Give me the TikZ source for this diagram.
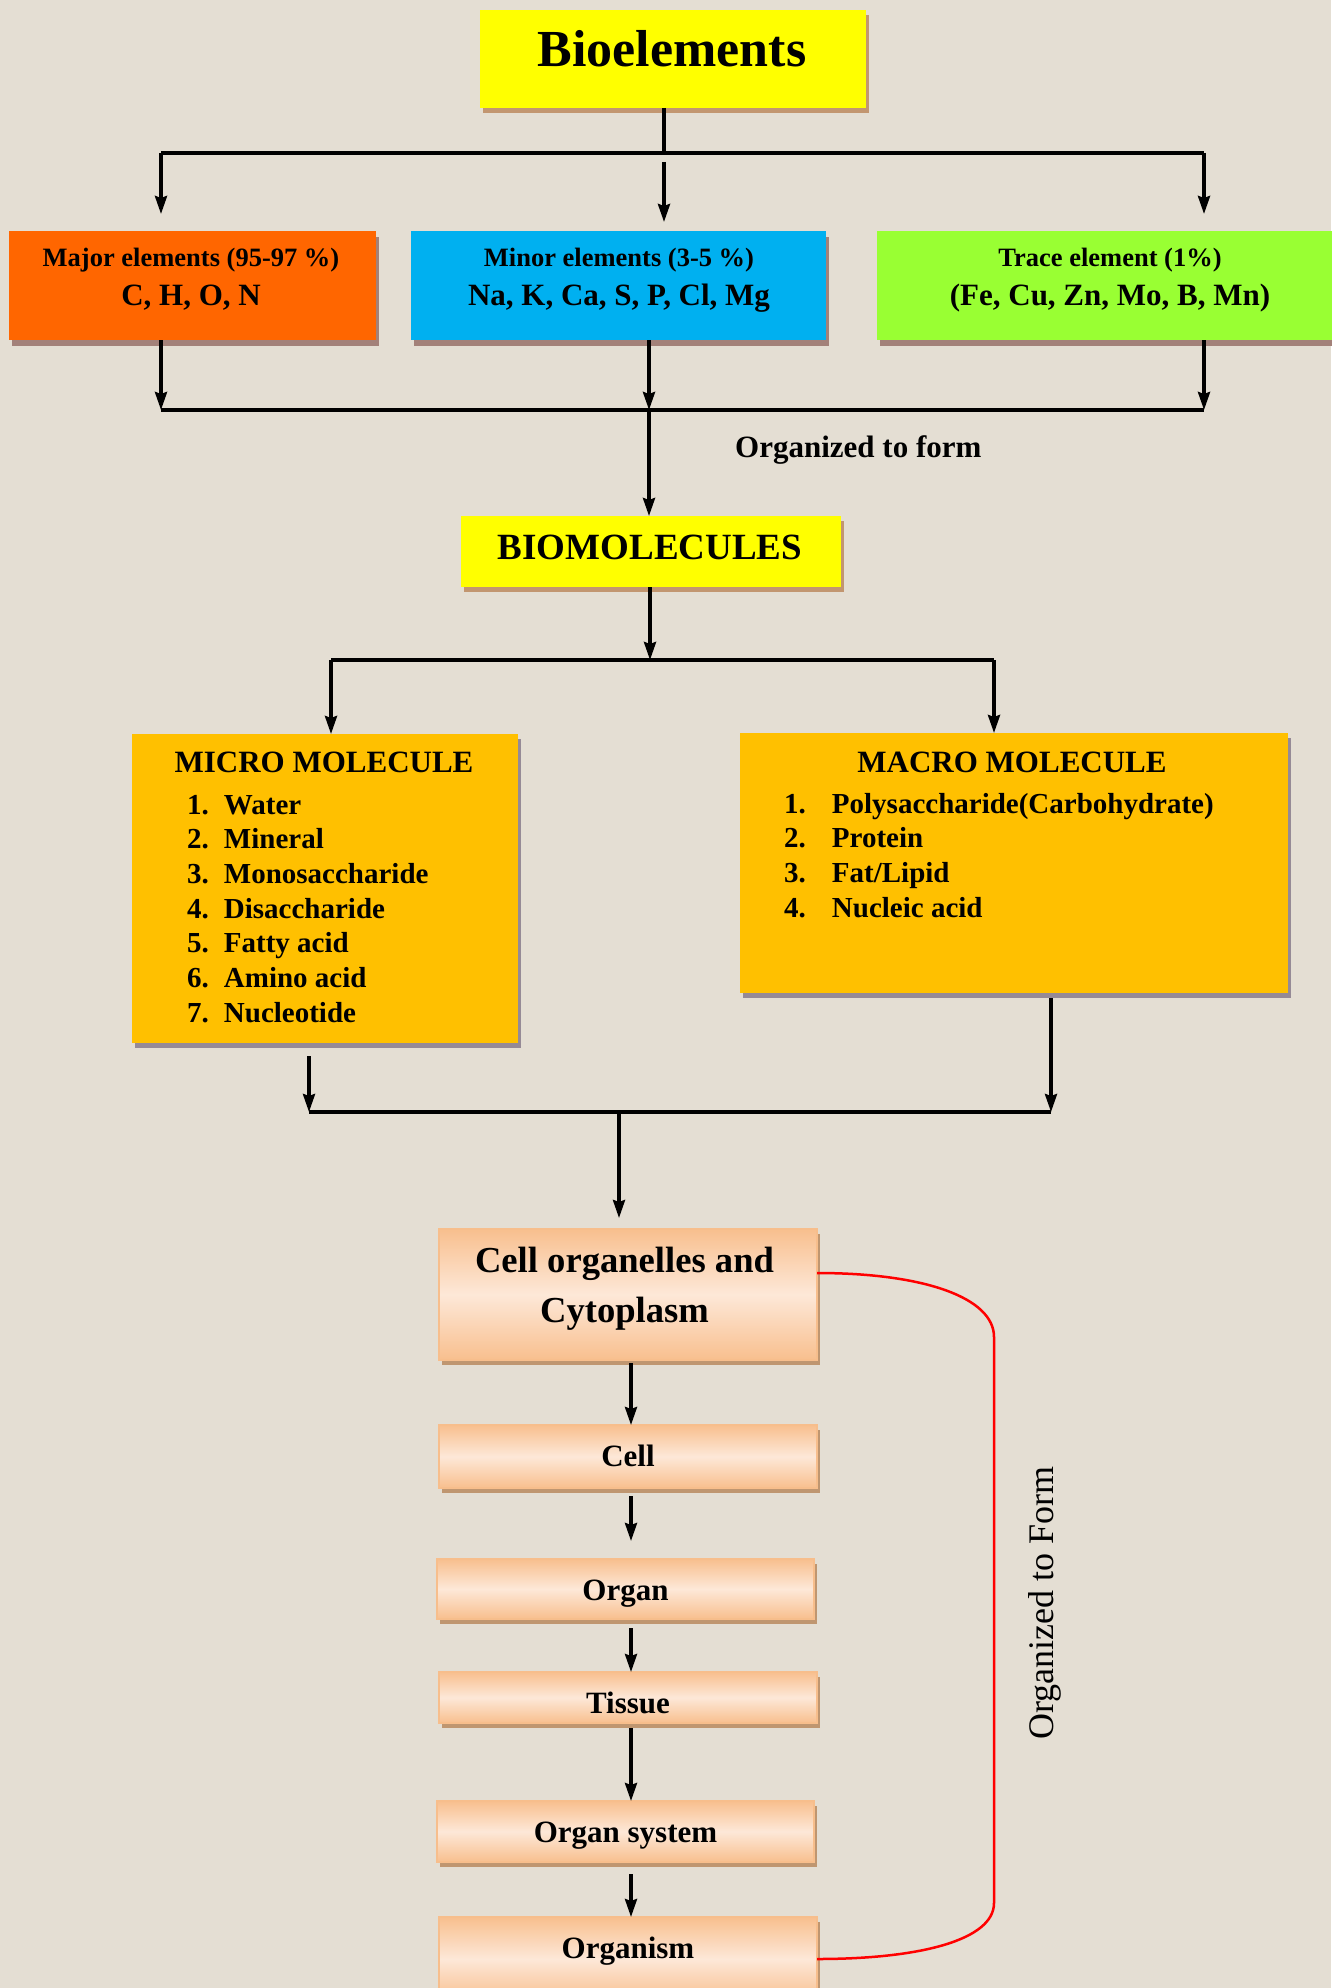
\documentclass[tikz,border=0pt]{standalone}
\usepackage{fontspec}
\setmainfont{Liberation Serif}
\usetikzlibrary{arrows.meta,shadows}
\definecolor{bgc}{HTML}{E4DED3}
\definecolor{yel}{HTML}{FFFF00}
\definecolor{orng}{HTML}{FF6600}
\definecolor{blu}{HTML}{00B0F0}
\definecolor{grn}{HTML}{99FF33}
\definecolor{gold}{HTML}{FFC000}
\definecolor{shTan}{HTML}{C29670}
\definecolor{shMauve}{HTML}{A38179}
\definecolor{shGray}{HTML}{958A96}
\definecolor{shPeach}{HTML}{BF9670}
\definecolor{peachD}{HTML}{F8BF8E}
\definecolor{peachL}{HTML}{FDE8D8}
\definecolor{peachB}{HTML}{F7BE8C}
\begin{document}
\begin{tikzpicture}[x=1pt,y=1pt,
  sbox/.style={inner sep=0pt, outer sep=0pt, draw=none},
  shadowTan/.style={drop shadow={shadow xshift=3pt,shadow yshift=-5pt,fill=shTan,opacity=1}},
  shadowMauve/.style={drop shadow={shadow xshift=3pt,shadow yshift=-6pt,fill=shMauve,opacity=1}},
  shadowGray/.style={drop shadow={shadow xshift=3pt,shadow yshift=-5pt,fill=shGray,opacity=1}},
  peachbox/.style={sbox, draw=peachB, line width=1.5pt, top color=peachD, bottom color=peachD, middle color=peachL,
     drop shadow={shadow xshift=3pt,shadow yshift=-5pt,fill=shPeach,opacity=1}},
  ft/.style={font=\bfseries\fontsize{#1}{#1}\selectfont, inner sep=0pt},
  conn/.style={line width=3.4pt, black},
  arr/.style={conn, -{Stealth[length=18pt,width=12pt,inset=2pt]}},
  redl/.style={line width=2.5pt, red}
]
\fill[bgc] (0,0) rectangle (1331,-1988);
\useasboundingbox (0,0) rectangle (1331,-1988);

% ---------- boxes ----------
\node[sbox, fill=yel, shadowTan, minimum width=386pt, minimum height=98pt] (bio) at (673,-59) {};
\node[ft=52, anchor=base] (tbio) at (672,-67) {Bioelements};

\node[sbox, fill=orng, shadowMauve, minimum width=367pt, minimum height=109pt] (major) at (192.5,-285.5) {};
\node[sbox, fill=blu, shadowMauve, minimum width=415pt, minimum height=109pt] (minor) at (618.5,-285.5) {};
\node[sbox, fill=grn, shadowMauve, minimum width=466pt, minimum height=109pt] (trace) at (1110,-285.5) {};
\node[ft=26.5, anchor=base] (tmaj1) at (191,-266) {Major elements (95-97 \%)};
\node[ft=31, anchor=base] (tmaj2) at (191,-305) {C, H, O, N};
\node[ft=26.5, anchor=base] (tmin1) at (619,-266) {Minor elements (3-5 \%)};
\node[ft=31, anchor=base] (tmin2) at (619,-305) {Na, K, Ca, S, P, Cl, Mg};
\node[ft=26.5, anchor=base] (ttr1) at (1110,-266) {Trace element (1\%)};
\node[ft=31, anchor=base] (ttr2) at (1110,-305) {(Fe, Cu, Zn, Mo, B, Mn)};

\node[ft=31, anchor=base west] (orgform) at (735,-457) {Organized to form};

\node[sbox, fill=yel, shadowTan, minimum width=380pt, minimum height=71pt] (biomol) at (651,-551.5) {};
\node[ft=37, anchor=base] (tbiomol) at (650,-559) {BIOMOLECULES};

\node[sbox, fill=gold, shadowGray, minimum width=386pt, minimum height=309pt] (micro) at (325,-888.5) {};
\node[sbox, fill=gold, shadowGray, minimum width=548pt, minimum height=260pt] (macro) at (1014,-863) {};
\node[ft=31, anchor=base] (tmicro) at (324,-772) {MICRO MOLECULE};
\node[ft=31, anchor=base] (tmacro) at (1012,-772) {MACRO MOLECULE};
\node[anchor=base west, inner sep=0pt, font=\bfseries\fontsize{29}{34.7}\selectfont] (lmicro) at (187,-814)
  {\begin{tabular}[t]{@{}l@{\hspace{15pt}}l@{}}
   1. & Water\\ 2. & Mineral\\ 3. & Monosaccharide\\ 4. & Disaccharide\\
   5. & Fatty acid\\ 6. & Amino acid\\ 7. & Nucleotide
   \end{tabular}};
\node[anchor=base west, inner sep=0pt, font=\bfseries\fontsize{29}{34.7}\selectfont] (lmacro) at (784,-813)
  {\begin{tabular}[t]{@{}l@{\hspace{26pt}}l@{}}
   1. & Polysaccharide(Carbohydrate)\\ 2. & Protein\\ 3. & Fat/Lipid\\ 4. & Nucleic acid
   \end{tabular}};

\node[peachbox, minimum width=378pt, minimum height=131pt] (cellorg) at (628,-1294.5) {};
\node[anchor=base, inner sep=0pt, font=\bfseries\fontsize{36.6}{50}\selectfont] (tcellorg) at (624.5,-1272)
  {\begin{tabular}[t]{@{}c@{}}Cell organelles and\\ Cytoplasm\end{tabular}};
\node[peachbox, minimum width=378pt, minimum height=63pt] (cell) at (628,-1456.5) {};
\node[ft=31, anchor=base] (tcell) at (628,-1466) {Cell};
\node[peachbox, minimum width=377pt, minimum height=60pt] (organ) at (625.5,-1589) {};
\node[ft=31, anchor=base] (torgan) at (625.5,-1600) {Organ};
\node[peachbox, minimum width=378pt, minimum height=51pt] (tissue) at (628,-1697.5) {};
\node[ft=31, anchor=base] (ttissue) at (628,-1713) {Tissue};
\node[peachbox, minimum width=377pt, minimum height=61pt] (orgsys) at (625.5,-1831.5) {};
\node[ft=31, anchor=base] (torgsys) at (625.5,-1842) {Organ system};
\node[peachbox, minimum width=378pt, minimum height=84pt] (organism) at (628,-1959) {};
\node[ft=31, anchor=base] (torganism) at (628,-1958) {Organism};

\node[rotate=90, anchor=base west, inner sep=0pt, font=\fontsize{36}{36}\selectfont] (vtext) at (1053,-1740) {Organized to Form};

% ---------- junction coordinates ----------
\coordinate (j1) at (664,-153);
\coordinate (j1l) at (161,-153);
\coordinate (j1r) at (1204,-153);
\coordinate (m1) at (664,-162);
\coordinate (j2l) at (161,-410);
\coordinate (j2m) at (649,-410);
\coordinate (j2r) at (1204,-410);
\coordinate (j3) at (650,-660);
\coordinate (j3l) at (331,-660);
\coordinate (j3r) at (994,-660);
\coordinate (j4l) at (309,-1112);
\coordinate (j4m) at (619,-1112);
\coordinate (j4r) at (1051,-1112);
\coordinate (cx) at (631,0);

% ---------- connectors ----------
\draw[conn] (j1 |- bio.south) -- (j1);
\draw[conn] (j1l) -- (j1r);
\draw[arr] (j1l) -- ([yshift=17pt]major.north -| j1l);
\draw[arr] (m1) -- ([yshift=9pt]minor.north -| m1);
\draw[arr] (j1r) -- ([yshift=17pt]trace.north -| j1r);

\draw[arr] (major.south -| j2l) -- (j2l);
\draw[arr] (minor.south -| j2m) -- (j2m);
\draw[arr] (trace.south -| j2r) -- (j2r);
\draw[conn] (j2l) -- (j2r);
\draw[arr] (j2m) -- (biomol.north -| j2m);

\draw[arr] (biomol.south -| j3) -- (j3);
\draw[conn] (j3l) -- (j3r);
\draw[arr] (j3l) -- (micro.north -| j3l);
\draw[arr] (j3r) -- (macro.north -| j3r);

\draw[arr] ([yshift=-13pt]micro.south -| j4l) -- (j4l);
\draw[arr] ([yshift=-5pt]macro.south -| j4r) -- (j4r);
\draw[conn] (j4l) -- (j4r);
\draw[arr] (j4m) -- ([yshift=11pt]cellorg.north -| j4m);

\draw[arr] ([yshift=-3pt]cellorg.south -| cx) -- (cell.north -| cx);
\draw[arr] ([yshift=-8pt]cell.south -| cx) -- ([yshift=18pt]organ.north -| cx);
\draw[arr] ([yshift=-9pt]organ.south -| cx) -- (tissue.north -| cx);
\draw[arr] ([yshift=-5pt]tissue.south -| cx) -- (orgsys.north -| cx);
\draw[arr] ([yshift=-12pt]orgsys.south -| cx) -- (organism.north -| cx);

\draw[redl] ([yshift=21.5pt]cellorg.east) .. controls (925,-1273) and (994,-1298) .. (994,-1337)
  -- (994,-1903) .. controls (994,-1940) and (920,-1959) .. (organism.east);
\end{tikzpicture}
\end{document}
